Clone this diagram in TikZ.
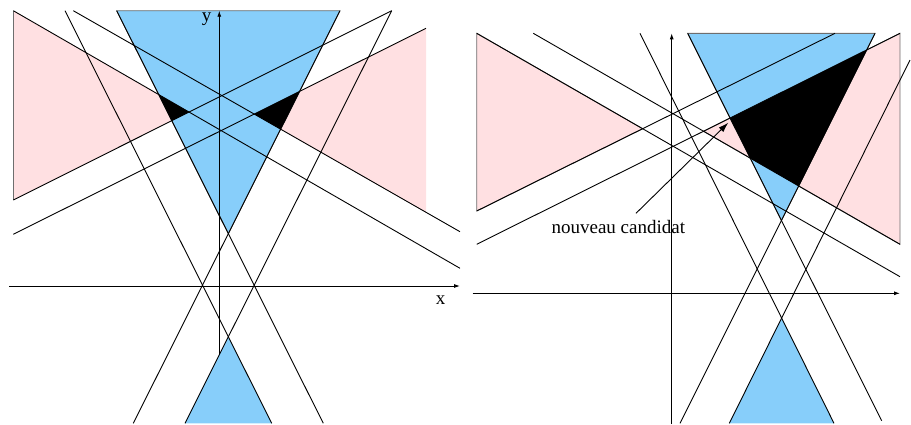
\documentclass[tikz,border=0pt]{standalone}
\usepackage{fontspec}
\setmainfont{Liberation Serif}
\usetikzlibrary{arrows.meta}
\definecolor{skyb}{RGB}{135,206,250}
\definecolor{rosep}{RGB}{255,224,226}
\definecolor{edgegray}{RGB}{110,110,110}
\begin{document}
\begin{tikzpicture}[x=0.5pt,y=-0.5pt,
  ln/.style={line width=0.45pt, black},
  axis/.style={line width=0.45pt, black, -{Latex[length=3pt,width=2pt]}},
  lbl/.style={font=\fontsize{9.5}{11}\selectfont, inner sep=0pt},
  bluefill/.style={fill=skyb, draw=edgegray, line width=0.45pt},
  pinkfill/.style={fill=rosep},
  blackfill/.style={fill=black}]
\useasboundingbox (0,0) rectangle (911,424);
% ---------------- left panel ----------------
\coordinate (L1a) at (13.3,10.7);  \coordinate (L1b) at (460,268.3);
\coordinate (L2a) at (73.3,10.7);  \coordinate (L2b) at (460,231.7);
\coordinate (L3a) at (13.3,200);   \coordinate (L3b) at (391.7,10.7);
\coordinate (L4a) at (13.3,234.3); \coordinate (L4b) at (426,28.3);
\coordinate (S1a) at (65,10.7);    \coordinate (S1b) at (271.7,423.3);
\coordinate (S2a) at (116.7,10.7); \coordinate (S2b) at (323.3,423.3);
\coordinate (S3a) at (340,10.7);   \coordinate (S3b) at (133.3,423.3);
\coordinate (S4a) at (391.7,10.7); \coordinate (S4b) at (185,423.3);
\coordinate (PL) at (intersection of L1a--L1b and L3a--L3b);
\coordinate (PR) at (intersection of L2a--L2b and L4a--L4b);
\coordinate (PRb) at (intersection of L2a--L2b and 426,0--426,424);
\coordinate (BT) at (intersection of S2a--S2b and S3a--S3b);
\coordinate (BB) at (intersection of S1a--S1b and S4a--S4b);
\coordinate (K1) at (intersection of L1a--L1b and S2a--S2b);
\coordinate (K2) at (intersection of L3a--L3b and S2a--S2b);
\coordinate (K3) at (intersection of L4a--L4b and S3a--S3b);
\coordinate (K4) at (intersection of L2a--L2b and S3a--S3b);
% fills
\fill[pinkfill] (L1a) -- (PL) -- (L3a) -- cycle;
\draw[edgegray, line width=0.45pt] (L1a) -- (L3a);
\fill[pinkfill] (PR) -- (L4b) -- (PRb) -- cycle;
\filldraw[bluefill] (S2a) -- (S3a) -- (BT) -- cycle;
\fill[skyb] (BB) -- (S4b) -- (S1b) -- cycle;
\fill[blackfill] (K1) -- (PL) -- (K2) -- cycle;
\fill[blackfill] (PR) -- (K3) -- (K4) -- cycle;
% lines
\draw[ln] (L1a) -- (L1b);
\draw[ln] (L2a) -- (L2b);
\draw[ln] (L3a) -- (L3b);
\draw[ln] (L4a) -- (L4b);
\draw[ln] (S1a) -- (S1b);
\draw[ln] (S2a) -- (S2b);
\draw[ln] (S3a) -- (S3b);
\draw[ln] (S4a) -- (S4b);
% axes
\coordinate (XLa) at (9.3,286);  \coordinate (XLb) at (460,286);
\coordinate (YLa) at (219.3,355); \coordinate (YLb) at (219.3,10.7);
\draw[axis] (XLa) -- (XLb);
\draw[axis] (YLa) -- (YLb);
\node[lbl] (ylab) at (206.7,19) {y};
\node[lbl] (xlab) at (440.7,300) {x};
% ---------------- right panel ----------------
\coordinate (R1a) at (476.7,33.3); \coordinate (R1b) at (900,276.7);
\coordinate (R2a) at (533.3,33.3); \coordinate (R2b) at (900,244.3);
\coordinate (R3a) at (476.7,211);  \coordinate (R3b) at (835,33.3);
\coordinate (R4a) at (476.7,244.3);\coordinate (R4b) at (900,33.3);
\coordinate (Q1a) at (687.7,33.3); \coordinate (Q1b) at (881.7,420.7);
\coordinate (Q2a) at (875,33.3);   \coordinate (Q2b) at (680,423.3);
\coordinate (Q3a) at (640,33.3);   \coordinate (Q3b) at (834,423.3);
\coordinate (Q4a) at (910,60);     \coordinate (Q4b) at (729.3,423.3);
\coordinate (PL2) at (intersection of R1a--R1b and R3a--R3b);
\coordinate (PR2) at (intersection of R2a--R2b and R4a--R4b);
\coordinate (BT2) at (intersection of Q1a--Q1b and Q2a--Q2b);
\coordinate (BB2) at (intersection of Q3a--Q3b and Q4a--Q4b);
\coordinate (M1) at (intersection of Q1a--Q1b and R4a--R4b);
\coordinate (M2) at (intersection of Q2a--Q2b and R4a--R4b);
\coordinate (M3) at (intersection of Q2a--Q2b and R2a--R2b);
\coordinate (M4) at (intersection of Q1a--Q1b and R2a--R2b);
\filldraw[pinkfill, draw=edgegray, line width=0.45pt] (R1a) -- (PL2) -- (R3a) -- cycle;
\filldraw[pinkfill, draw=edgegray, line width=0.45pt] (PR2) -- (R4b) -- (R2b) -- cycle;
\filldraw[bluefill] (Q1a) -- (Q2a) -- (BT2) -- cycle;
\fill[skyb] (BB2) -- (Q4b) -- (Q3b) -- cycle;
\fill[blackfill] (M1) -- (M2) -- (M3) -- (M4) -- cycle;
\draw[ln] (R1a) -- (R1b);
\draw[ln] (R2a) -- (R2b);
\draw[ln] (R3a) -- (R3b);
\draw[ln] (R4a) -- (R4b);
\draw[ln] (Q1a) -- (Q1b);
\draw[ln] (Q2a) -- (Q2b);
\draw[ln] (Q3a) -- (Q3b);
\draw[ln] (Q4a) -- (Q4b);
\coordinate (XRa) at (472.7,293.3); \coordinate (XRb) at (900,293.3);
\coordinate (YRa) at (671.7,424);   \coordinate (YRb) at (671.7,33.3);
\draw[axis] (XRa) -- (XRb);
\draw[axis] (YRa) -- (YRb);
\node[lbl] (nc) at (618.3,226.5) {nouveau candidat};
\coordinate (ncstart) at (636,213.3);
\coordinate (nctip) at (728.3,122.7);
\draw[line width=0.45pt, -{Latex[length=5pt,width=3.2pt]}] (ncstart) -- (nctip);
\end{tikzpicture}
\end{document}
